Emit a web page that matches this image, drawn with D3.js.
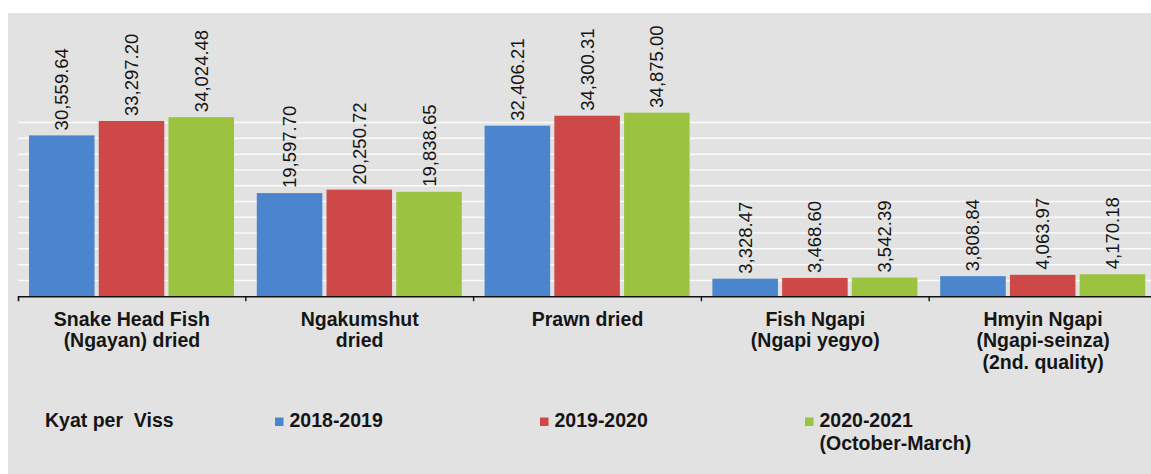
<!DOCTYPE html>
<html>
<head>
<meta charset="utf-8">
<script src="https://cdn.jsdelivr.net/npm/d3@7"></script>
<style>
  html, body { margin: 0; padding: 0; background: #ffffff; }
  svg { display: block; font-family: "Liberation Sans", Arial, sans-serif; }
</style>
</head>
<body>
<svg id="chart" width="1151" height="474"></svg>
<script>
// ---- data ----
const categories = ["Snake Head Fish (Ngayan) dried", "Ngakumshut dried", "Prawn dried", "Fish Ngapi (Ngapi yegyo)", "Hmyin Ngapi (Ngapi-seinza) (2nd. quality)"];
const categoryLines = [
  ["Snake Head Fish", "(Ngayan) dried"],
  ["Ngakumshut", "dried"],
  ["Prawn dried"],
  ["Fish Ngapi", "(Ngapi yegyo)"],
  ["Hmyin Ngapi", "(Ngapi-seinza)", "(2nd. quality)"]
];
const seriesNames = ["2018-2019", "2019-2020", "2020-2021"];
const seriesLegendLines = [["2018-2019"], ["2019-2020"], ["2020-2021", "(October-March)"]];
const values2018 = [30559.64, 19597.70, 32406.21, 3328.47, 3808.84];
const values2019 = [33297.20, 20250.72, 34300.31, 3468.60, 4063.97];
const values2020 = [34024.48, 19838.65, 34875.00, 3542.39, 4170.18];
const gridValues = [3000, 6000, 9000, 12000, 15000, 18000, 21000, 24000, 27000, 30000, 33000];
const unitLabel = "Kyat per  Viss";
const colors = ["#4a85cd", "#cf4848", "#9cc33f"];

const seriesValues = [values2018, values2019, values2020];

// ---- layout ----
const svg = d3.select("#chart");
const W = 1151, H = 474;
svg.append("rect").attr("x", 0).attr("y", 0).attr("width", W).attr("height", H).attr("fill", "#ffffff");
svg.append("rect").attr("x", 8).attr("y", 13).attr("width", W - 8).attr("height", H - 13).attr("fill", "#e2e2e2");

const baseY = 296.2;
const x0 = d3.scaleBand().domain(categories).range([18, 18 + 5 * 227.8]).padding(0);
const x1 = d3.scaleBand().domain(seriesNames).range([11, 216]).paddingInner(0.06).paddingOuter(0);
const y = d3.scaleLinear().domain([0, 40000]).range([baseY, baseY - 40000 * 0.005262]);

// grid
svg.append("g").selectAll("line").data(gridValues).join("line")
  .attr("x1", 18).attr("x2", W)
  .attr("y1", d => y(d)).attr("y2", d => y(d))
  .attr("stroke", "#ffffff").attr("stroke-opacity", 0.85).attr("stroke-width", 1.5);

// bars
const groups = svg.append("g").selectAll("g").data(categories).join("g")
  .attr("transform", d => `translate(${x0(d)},0)`);

groups.each(function(cat, ci) {
  const g = d3.select(this);
  seriesNames.forEach((s, si) => {
    const v = seriesValues[si][ci];
    g.append("rect")
      .attr("x", x1(s)).attr("width", x1.bandwidth())
      .attr("y", y(v)).attr("height", baseY - y(v))
      .attr("fill", colors[si]);
    g.append("text")
      .attr("transform", `translate(${x1(s) + x1.bandwidth() / 2},${y(v) - 5}) rotate(-90)`)
      .attr("dy", "0.35em")
      .attr("text-anchor", "start")
      .attr("font-size", "18.5px")
      .attr("fill", "#151515")
      .text(d3.format(",.2f")(v));
  });
});

// axis
const axis = d3.axisBottom(x0).tickSizeInner(0).tickSizeOuter(5).tickFormat("");
const axG = svg.append("g").attr("transform", `translate(0,${baseY})`).call(axis);
axG.select(".domain").attr("stroke", "#111").attr("stroke-width", 1.6);
axG.selectAll(".tick").remove();
axG.selectAll("line.bnd").data(categories.slice(1)).join("line")
  .attr("class", "bnd")
  .attr("x1", d => x0(d)).attr("x2", d => x0(d))
  .attr("y1", 0).attr("y2", 5)
  .attr("stroke", "#111").attr("stroke-width", 1.4);

// category labels
categories.forEach((cat, ci) => {
  const t = svg.append("text")
    .attr("x", x0(cat) + x0.bandwidth() / 2)
    .attr("y", 326)
    .attr("text-anchor", "middle")
    .attr("font-size", "19.5px")
    .attr("font-weight", "bold")
    .attr("fill", "#151515");
  categoryLines[ci].forEach((line, li) => {
    t.append("tspan").attr("x", x0(cat) + x0.bandwidth() / 2).attr("y", 326 + li * 21.3).text(line);
  });
});

// legend
svg.append("text")
  .attr("x", 45).attr("y", 427)
  .attr("font-size", "19.5px").attr("font-weight", "bold").attr("fill", "#151515")
  .style("white-space", "pre")
  .text(unitLabel);

const legendX = [275, 540, 805];
seriesNames.forEach((s, si) => {
  svg.append("rect")
    .attr("x", legendX[si]).attr("y", 417.5).attr("width", 8.5).attr("height", 8.5)
    .attr("fill", colors[si]);
  const t = svg.append("text")
    .attr("font-size", "19.5px").attr("font-weight", "bold").attr("fill", "#151515");
  seriesLegendLines[si].forEach((line, li) => {
    t.append("tspan").attr("x", legendX[si] + 14.5).attr("y", 427 + li * 23).text(line);
  });
});
</script>
</body>
</html>
